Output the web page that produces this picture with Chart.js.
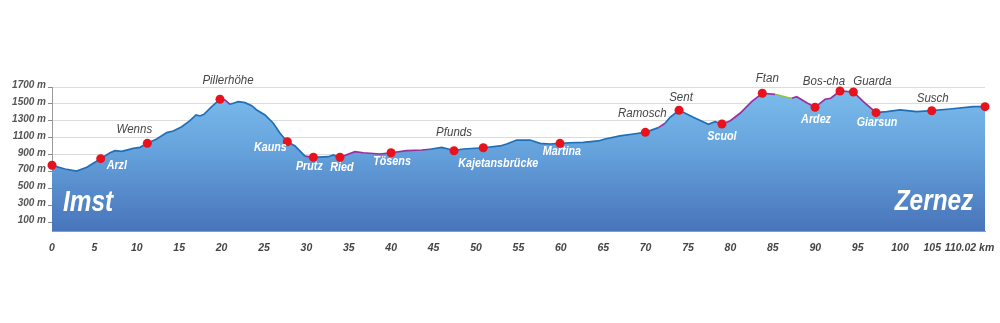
<!DOCTYPE html>
<html>
<head>
<meta charset="utf-8">
<style>
  body { margin: 0; background: #fff; }
  #wrap { width: 1000px; height: 323px; }
</style>
<script src="https://cdn.jsdelivr.net/npm/chart.js@4.4.0/dist/chart.umd.min.js"></script>
</head>
<body>
<div id="wrap"><canvas id="chart"></canvas></div>
<script>
// elevation profile, distance in km / height in m
const profileKm = [0, 1.53, 2.9, 4.1, 5.74, 6.84, 7.43, 8.22, 9.59, 10.38, 11.24, 12.35, 13.53, 14.3, 15.3,
  16.27, 16.98, 17.45, 17.92, 18.83, 19.81, 20.4, 20.99, 21.38, 21.97, 22.76, 23.55, 24.14, 25.12, 26.1,
  26.89, 27.75, 28.66, 29.83, 30.82, 32.59, 33.18, 33.96, 35.73, 36.71, 38.68, 39.98, 41.83, 43.6, 44.58,
  45.96, 46.73, 47.41, 48.5, 50.86, 52.83, 53.62, 54.8, 56.37, 57.55, 58.73, 59.9, 61.1, 62.65, 64.42,
  65.21, 66.98, 68.55, 69.97, 71.5, 72.29, 72.88, 73.94, 75.63, 77.4, 78.18, 79.0, 79.95, 81.13, 82.5,
  83.76, 85.26, 86.64, 87.23, 87.82, 89.0, 89.98, 91.16, 91.83, 92.92, 94.5, 95.68, 97.17, 98.43, 100.0,
  101.97, 103.74, 105.9, 108.64, 110.02];
const profileElev = [776, 732, 708, 752, 854, 924, 948, 941, 976, 988, 1035, 1086, 1161, 1181, 1231,
  1302, 1370, 1358, 1378, 1468, 1555, 1547, 1496, 1508, 1527, 1515, 1479, 1429, 1370, 1272,
  1153, 1054, 1004, 885, 870, 877, 897, 870, 936, 924, 909, 924, 948, 956, 965,
  988, 968, 948, 968, 983, 1004, 1027, 1074, 1074, 1035, 1027, 1035, 1042, 1047, 1063,
  1086, 1122, 1145, 1165, 1220, 1272, 1342, 1425, 1342, 1260, 1290, 1263, 1299, 1390, 1527,
  1626, 1614, 1579, 1567, 1586, 1515, 1460, 1555, 1567, 1653, 1641, 1527, 1397, 1409, 1429,
  1409, 1420, 1440, 1468, 1468];

// places along the route
const stationNames = ['Imst', 'Arzl', 'Wenns', 'Pillerhöhe', 'Kauns', 'Prutz', 'Ried', 'Tösens', 'Pfunds',
  'Kajetansbrücke', 'Martina', 'Ramosch', 'Sent', 'Scuol', 'Ftan', 'Ardez', 'Bos-cha', 'Guarda',
  'Giarsun', 'Susch', 'Zernez'];
const stationKm = [0, 5.74, 11.24, 19.81, 27.75, 30.82, 33.96, 39.98, 47.41, 50.86, 59.9, 69.97, 73.94,
  79.0, 83.76, 89.98, 92.92, 94.5, 97.17, 103.74, 110.02];
const stationElev = [776, 854, 1035, 1555, 1054, 870, 870, 924, 948, 983, 1035, 1165, 1425, 1263, 1626,
  1460, 1653, 1641, 1397, 1420, 1468];

// axis ticks
const yTicks = [100, 300, 500, 700, 900, 1100, 1300, 1500, 1700];
const xTickPos = [0, 5, 10, 15, 20, 25, 30, 35, 40, 45, 50, 55, 60, 65, 70, 75, 80, 85, 90, 95, 100, 103.8, 108.2];
const xTickLabels = ['0', '5', '10', '15', '20', '25', '30', '35', '40', '45', '50', '55', '60', '65', '70',
  '75', '80', '85', '90', '95', '100', '105', '110.02 km'];

// --- styling ---
const FONT = "'Liberation Sans', Arial, sans-serif";
const LINE_BLUE = '#1f6fb8';
const lineColours = [
  { from: 19.8, to: 21.0, color: '#9a2f9e' },
  { from: 29.8, to: 30.9, color: '#9a2f9e' },
  { from: 33.9, to: 44.6, color: '#9a2f9e' },
  { from: 71.5, to: 72.3, color: '#9a2f9e' },
  { from: 79.0, to: 85.3, color: '#9a2f9e' },
  { from: 85.3, to: 87.3, color: '#8cc63f' },
  { from: 87.3, to: 97.2, color: '#9a2f9e' }
];
// label placement per station: [dx, dy, white?, align]  (null = no small label)
const labelPlace = [
  null, [6, 7, 1, 'left'], [-13, -14, 0], [8, -19, 0], [-17, 6, 1], [-4, 9, 1], [2, 10, 1], [1, 9, 1],
  [0, -18, 0], [15, 16, 1], [2, 8, 1], [-3, -19, 0], [2, -13, 0], [0, 13, 1], [5, -15, 0], [1, 12, 1],
  [-16, -9, 0], [19, -10, 0], [1, 10, 1], [1, -12, 0], null
];

const profile = profileKm.map((k, i) => ({ x: k, y: profileElev[i] }));
const stations = stationKm.map((k, i) => ({ x: k, y: stationElev[i] }));

function segColour(ctx) {
  const mid = (ctx.p0.parsed.x + ctx.p1.parsed.x) / 2;
  for (const r of lineColours) {
    if (mid >= r.from && mid <= r.to) return r.color;
  }
  return LINE_BLUE;
}

// narrow-looking text: squeeze horizontally
function narrowText(c, text, x, y, align, squeeze) {
  c.save();
  c.translate(x, y);
  c.scale(squeeze, 1);
  c.textAlign = align;
  c.fillText(text, 0, 0);
  c.restore();
}

const labelPlugin = {
  id: 'placeLabels',
  afterDatasetsDraw(chart) {
    const c = chart.ctx;
    const xs = chart.scales.x, ys = chart.scales.y;
    c.save();
    c.textBaseline = 'middle';
    // big start / end names
    c.fillStyle = '#fff';
    c.font = 'italic bold 29px ' + FONT;
    narrowText(c, stationNames[0], 88, 203, 'center', 0.84);
    narrowText(c, stationNames[stationNames.length - 1], 934, 202, 'center', 0.84);

    stationNames.forEach((name, i) => {
      const p = labelPlace[i];
      if (!p) return;
      const px = xs.getPixelForValue(stationKm[i]);
      const py = ys.getPixelForValue(stationElev[i]);
      if (p[2]) {
        c.fillStyle = '#fff';
        c.font = 'italic bold 12.5px ' + FONT;
        narrowText(c, name, px + p[0], py + p[1], p[3] || 'center', 0.86);
      } else {
        c.fillStyle = '#454545';
        c.font = 'italic 12px ' + FONT;
        narrowText(c, name, px + p[0], py + p[1], p[3] || 'center', 0.96);
      }
    });
    c.restore();
  }
};

const ctx = document.getElementById('chart').getContext('2d');
new Chart(ctx, {
  type: 'line',
  data: {
    datasets: [
      {
        // shaded terrain
        data: profile,
        borderWidth: 0,
        borderColor: 'rgba(0,0,0,0)',
        pointRadius: 0,
        tension: 0,
        fill: 'origin',
        backgroundColor: (c) => {
          const a = c.chart.chartArea;
          if (!a) return '#5f9ad6';
          const g = c.chart.ctx.createLinearGradient(0, a.top, 0, a.bottom);
          g.addColorStop(0, '#7cbdec');
          g.addColorStop(0.45, '#65a2dc');
          g.addColorStop(1, '#4874ba');
          return g;
        },
        order: 3
      },
      {
        // route line
        data: profile,
        borderColor: LINE_BLUE,
        borderWidth: 1.7,
        pointRadius: 0,
        tension: 0,
        fill: false,
        segment: { borderColor: segColour },
        order: 2
      },
      {
        data: stations,
        showLine: false,
        clip: false,
        pointRadius: 4.5,
        pointBackgroundColor: '#e8121c',
        pointBorderWidth: 0,
        order: 1
      }
    ]
  },
  options: {
    animation: false,
    responsive: true,
    maintainAspectRatio: false,
    layout: { padding: { top: 87, right: 15, left: 0, bottom: 0 } },
    plugins: { legend: { display: false }, tooltip: { enabled: false } },
    scales: {
      x: {
        type: 'linear',
        min: 0,
        max: 110.02,
        afterBuildTicks: (s) => { s.ticks = xTickPos.map(v => ({ value: v })); },
        afterFit: (s) => { s.height = 92; },
        grid: { display: false },
        border: { display: true, color: '#9a9a9a', width: 1 },
        ticks: {
          autoSkip: false,
          maxRotation: 0,
          padding: 3,
          color: '#444',
          font: { family: FONT, size: 10.5, style: 'italic', weight: 'bold' },
          callback: (v, i) => xTickLabels[i]
        }
      },
      y: {
        min: 0,
        max: 1700,
        afterBuildTicks: (s) => { s.ticks = yTicks.map(v => ({ value: v })); },
        afterFit: (s) => { s.width = 52; },
        grid: { color: '#dcdcdc', tickColor: '#8a8a8a', tickLength: 4, lineWidth: 1 },
        border: { display: true, color: '#9a9a9a', width: 1 },
        ticks: {
          padding: 2,
          labelOffset: -2,
          color: '#555',
          font: { family: FONT, size: 10, style: 'italic', weight: 'bold' },
          callback: (v) => v + ' m'
        }
      }
    }
  },
  plugins: [labelPlugin]
});
</script>
</body>
</html>
